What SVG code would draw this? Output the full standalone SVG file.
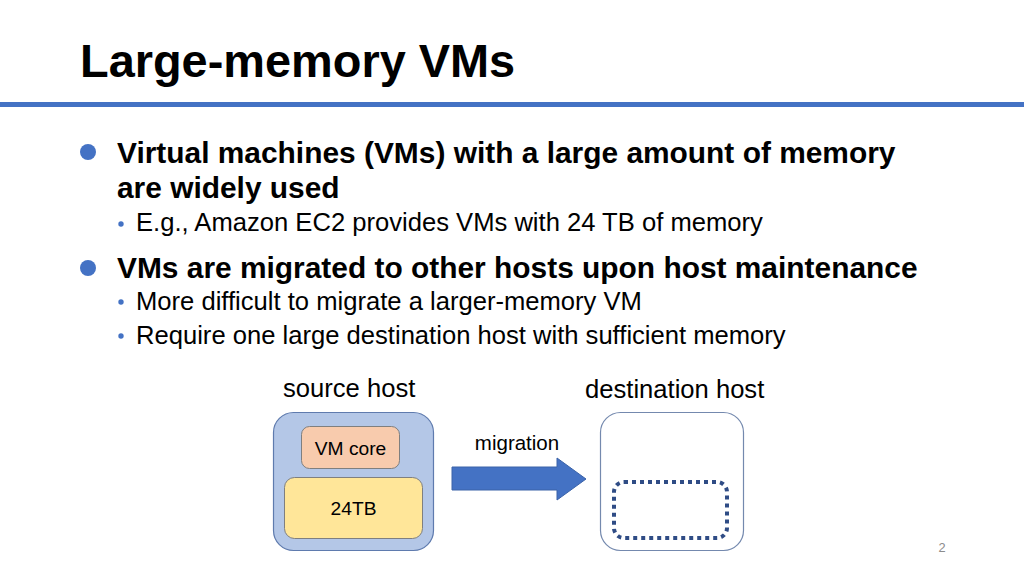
<svg xmlns="http://www.w3.org/2000/svg" width="1024" height="576" viewBox="0 0 1024 576">
<style>
text{font-family:"Liberation Sans",Arial,sans-serif;fill:#000}
.title{font-size:46.9px;font-weight:bold}
.b1{font-size:29.9px;font-weight:bold}
.b2{font-size:25.6px}
.lbl{font-size:25.6px}
.small{font-size:19.2px}
.dot{fill:#4472C4}
</style>
<rect width="1024" height="576" fill="#fff"/>
<text class="title" x="80" y="77">Large-memory VMs</text>
<rect x="0" y="102" width="1024" height="5" fill="#4472C4"/>
<g id="bullets">
<circle class="dot" cx="88" cy="152" r="8"/>
<text class="b1" x="117" y="163">Virtual machines (VMs) with a large amount of memory</text>
<text class="b1" x="117" y="198">are widely used</text>
<circle class="dot" cx="121" cy="224" r="2.7"/>
<text class="b2" x="136" y="231">E.g., Amazon EC2 provides VMs with 24 TB of memory</text>
<circle class="dot" cx="88" cy="268" r="8"/>
<text class="b1" x="117" y="278">VMs are migrated to other hosts upon host maintenance</text>
<circle class="dot" cx="121" cy="302" r="2.7"/>
<text class="b2" x="136" y="310">More difficult to migrate a larger-memory VM</text>
<circle class="dot" cx="121" cy="336" r="2.7"/>
<text class="b2" x="136" y="344">Require one large destination host with sufficient memory</text>
</g>
<g id="source-host">
<text class="lbl" x="283" y="397">source host</text>
<rect x="273.5" y="412.5" width="160" height="138" rx="20" fill="#B4C7E7" stroke="#5F7BAE" stroke-width="1.2"/>
</g>
<g id="vm-core">
<rect x="301.5" y="426.5" width="98" height="42" rx="8" fill="#F8CBAD" stroke="#7F7F7F" stroke-width="1"/>
<text class="small" x="350.5" y="454.5" text-anchor="middle">VM core</text>
</g>
<g id="memory-24tb">
<rect x="284.5" y="477.5" width="138" height="61" rx="10" fill="#FFE699" stroke="#7F7F7F" stroke-width="1"/>
<text class="small" x="353.5" y="514.5" text-anchor="middle">24TB</text>
</g>
<g id="destination-host">
<text class="lbl" x="585" y="398">destination host</text>
<rect x="600.5" y="412.5" width="143" height="138" rx="20" fill="#fff" stroke="#7489AE" stroke-width="1.2"/>
<rect x="614" y="482" width="113" height="56" rx="10" fill="none" stroke="#2F4C85" stroke-width="4" stroke-dasharray="4 4"/>
</g>
<g id="connectors">
<polygon points="452,467 557,467 557,458 586,479 557,500 557,490 452,490" fill="#4472C4" stroke="#3A62A8" stroke-width="1"/>
<text class="small" x="517" y="450" text-anchor="middle" font-size="20.5px" style="font-size:20.5px">migration</text>
</g>
<text x="942" y="552" text-anchor="middle" style="font-size:12.8px;fill:#8C8C8C">2</text>
</svg>
